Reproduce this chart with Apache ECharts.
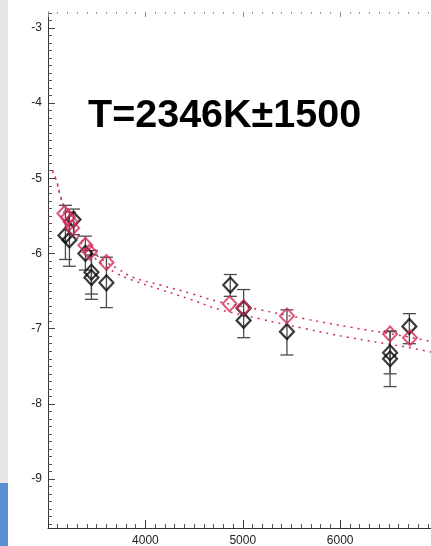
<!DOCTYPE html>
<html>
<head>
<meta charset="utf-8">
<script src="https://cdn.jsdelivr.net/npm/echarts@6/dist/echarts.min.js"></script>
<style>
html,body{margin:0;padding:0;background:#fff;}
#chart{width:431px;height:546px;}
</style>
</head>
<body>
<div id="chart"></div>
<script>
// ---- data ----
const blackX  = [3179, 3220, 3262, 3384, 3446, 3446, 3600, 4872, 5009, 5009, 5454, 6513, 6513, 6711];
const blackY  = [-5.76, -5.82, -5.55, -6.00, -6.25, -6.32, -6.39, -6.42, -6.73, -6.89, -7.04, -7.32, -7.40, -6.97];
const blackLo = [-6.08, -6.17, -5.75, -6.22, -6.54, -6.61, -6.72, -6.57, null, -7.12, -7.35, -7.60, -7.77, -7.20];
const blackHi = [-5.36, -5.45, -5.41, -5.77, -5.96, -6.02, -6.05, -6.28, null, -6.48, -6.75, -7.04, -7.03, -6.80];

const redX = [3169, 3205, 3231, 3248, 3384, 3429, 3600, 4865, 5009, 5454, 6513, 6718];
const redY = [-5.47, -5.52, -5.58, -5.66, -5.89, -5.98, -6.12, -6.67, -6.72, -6.83, -7.07, -7.12];

const fitX      = [3046, 3087, 3128, 3179, 3231, 3292, 3385, 3487, 3590, 3713, 3877, 4154, 4462, 4749, 5179, 5641, 6103, 6615, 6933];
const fitUpperY = [-4.89, -5.03, -5.23, -5.43, -5.59, -5.73, -5.88, -6.01, -6.11, -6.20, -6.32, -6.42, -6.53, -6.64, -6.75, -6.87, -6.98, -7.09, -7.17];
const fitLowerY = [-4.91, -5.04, -5.25, -5.45, -5.61, -5.77, -5.93, -6.07, -6.17, -6.27, -6.36, -6.48, -6.61, -6.74, -6.87, -7.00, -7.12, -7.23, -7.31];

const xTickLabels = [4000, 5000, 6000];
const yTickLabels = [-9, -8, -7, -6, -5, -4, -3];
const titleText = 'T=2346K\u00b11500';

// ---- build ----
const X_MIN = 3000, X_MAX = 7000, Y_MIN = -9.65, Y_MAX = -2.79;
const yMinor = [];
for (let k = -96; k <= -28; k++) { if (k % 10 !== 0) yMinor.push(k / 10); }

const zip = (a, b) => a.map((v, i) => [v, b[i]]);
const errData = blackX.map((x, i) => [x, blackLo[i], blackHi[i]]).filter(d => d[1] !== null);

const RED = '#d42c58';
const chart = echarts.init(document.getElementById('chart'), null, {renderer: 'canvas'});
const FONT = 'Liberation Sans, Arial, Helvetica, sans-serif';

chart.setOption({
  animation: false,
  backgroundColor: '#ffffff',
  grid: {left: 48, top: 12, width: 389.5, height: 516, containLabel: false, outerBoundsMode: 'none'},
  xAxis: [
    {
      type: 'value', position: 'bottom', min: X_MIN, max: X_MAX, interval: 1000,
      axisLine: {show: true, lineStyle: {color: '#333', width: 1}},
      axisTick: {show: true, inside: true, length: 8, lineStyle: {color: '#333'}},
      minorTick: {show: true, splitNumber: 10, length: 4, lineStyle: {color: '#555'}},
      splitLine: {show: false},
      axisLabel: {
        show: true, margin: 7, color: '#222', fontSize: 12, fontFamily: FONT,
        formatter: v => (xTickLabels.indexOf(v) >= 0 ? String(v) : '')
      }
    },
    {
      type: 'value', position: 'top', min: X_MIN, max: X_MAX, interval: 1000,
      axisLine: {show: false},
      axisTick: {show: true, inside: true, length: 5, lineStyle: {color: '#888'}},
      minorTick: {show: true, splitNumber: 10, length: 2, lineStyle: {color: '#999'}},
      splitLine: {show: false},
      axisLabel: {show: false}
    }
  ],
  yAxis: [
    {
      type: 'value', position: 'left', min: Y_MIN, max: Y_MAX,
      axisLine: {show: true, lineStyle: {color: '#333', width: 1}},
      axisTick: {show: true, inside: true, length: 7, customValues: yTickLabels, lineStyle: {color: '#444'}},
      splitLine: {show: false},
      axisLabel: {show: true, customValues: yTickLabels, margin: 6, color: '#222', fontSize: 12, fontFamily: FONT}
    },
    {
      type: 'value', position: 'left', offset: 0, min: Y_MIN, max: Y_MAX,
      axisLine: {show: false},
      axisTick: {show: true, inside: true, length: 4, customValues: yMinor, lineStyle: {color: '#555'}},
      splitLine: {show: false},
      axisLabel: {show: false}
    }
  ],
  graphic: [
    {type: 'rect', left: 0, top: 0, shape: {width: 8, height: 483}, style: {fill: '#e6e6e6'}, silent: true},
    {type: 'rect', left: 0, top: 483, shape: {width: 8, height: 63}, style: {fill: '#5b8fd3'}, silent: true},
    {type: 'text', left: 88, top: 96, style: {text: titleText, fill: '#000', font: 'bold 39.5px ' + FONT}}
  ],
  series: [
    {
      type: 'line', xAxisIndex: 0, yAxisIndex: 0, data: zip(fitX, fitUpperY), smooth: 0.4,
      symbol: 'none', lineStyle: {color: RED, width: 1.5, type: [2, 5]}, z: 1
    },
    {
      type: 'line', xAxisIndex: 0, yAxisIndex: 0, data: zip(fitX, fitLowerY), smooth: 0.4,
      symbol: 'none', lineStyle: {color: RED, width: 1.5, type: [2, 5]}, z: 1
    },
    {
      type: 'custom', xAxisIndex: 0, yAxisIndex: 0, data: errData, encode: {x: 0, y: [1, 2]}, z: 2,
      renderItem: function (params, api) {
        const x = api.value(0);
        const pLo = api.coord([x, api.value(1)]);
        const pHi = api.coord([x, api.value(2)]);
        const w = 6.5;
        const st = {stroke: '#4a4a4a', lineWidth: 1.3};
        return {type: 'group', children: [
          {type: 'line', shape: {x1: pLo[0], y1: pLo[1], x2: pHi[0], y2: pHi[1]}, style: st},
          {type: 'line', shape: {x1: pLo[0] - w, y1: pLo[1], x2: pLo[0] + w, y2: pLo[1]}, style: st},
          {type: 'line', shape: {x1: pHi[0] - w, y1: pHi[1], x2: pHi[0] + w, y2: pHi[1]}, style: st}
        ]};
      }
    },
    {
      type: 'scatter', xAxisIndex: 0, yAxisIndex: 0, data: zip(blackX, blackY), z: 3,
      symbol: 'diamond', symbolSize: [14, 15],
      itemStyle: {color: 'rgba(0,0,0,0)', borderColor: '#0a0a0a', borderWidth: 2.2}
    },
    {
      type: 'scatter', xAxisIndex: 0, yAxisIndex: 0, data: zip(redX, redY), z: 4,
      symbol: 'diamond', symbolSize: [14, 15],
      itemStyle: {color: 'rgba(0,0,0,0)', borderColor: RED, borderWidth: 2}
    }
  ]
});
</script>
</body>
</html>
